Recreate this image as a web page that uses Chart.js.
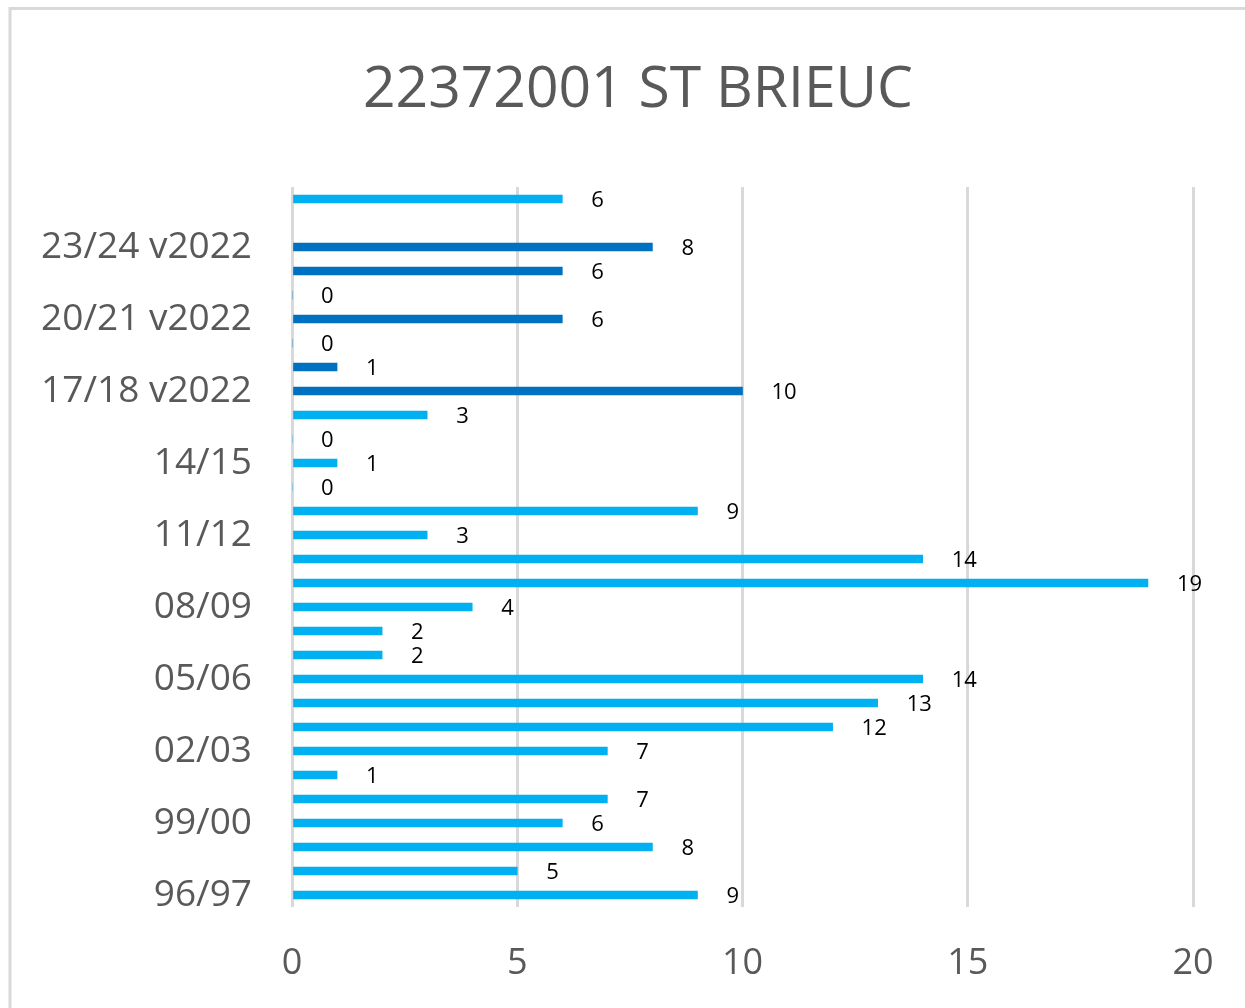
<!DOCTYPE html>
<html>
<head>
<meta charset="utf-8">
<script src="https://cdn.jsdelivr.net/npm/chart.js@4/dist/chart.umd.min.js"></script>
<style>
  html, body { margin: 0; padding: 0; background: #ffffff; }
  #wrap { width: 1245px; height: 1008px; position: relative; }
</style>
</head>
<body>
<div id="wrap"><canvas id="c" width="1245" height="1008"></canvas></div>
<script>
const categories = [
  "96/97", "97/98", "98/99", "99/00", "00/01", "01/02", "02/03", "03/04", "04/05", "05/06",
  "06/07", "07/08", "08/09", "09/10", "10/11", "11/12", "12/13", "13/14", "14/15", "15/16",
  "16/17", "17/18 v2022", "18/19 v2022", "19/20 v2022", "20/21 v2022", "21/22 v2022",
  "22/23 v2022", "23/24 v2022", "24/25 v2022", "25/26 v2022"
];
const seriesLight = [9, 5, 8, 6, 7, 1, 7, 12, 13, 14, 2, 2, 4, 19, 14, 3, 9, 0, 1, 0,
  3, null, null, null, null, null, null, null, null, 6];
const seriesDark = [null, null, null, null, null, null, null, null, null, null,
  null, null, null, null, null, null, null, null, null, null,
  null, 10, 1, 0, 6, 0, 6, 8, null, null];
const xTicks = [0, 5, 10, 15, 20];
const chartTitle = "22372001 ST BRIEUC";

const FONT = "'Open Sans', 'DejaVu Sans', sans-serif";

const frame = {
  id: 'frame',
  beforeDraw(chart) {
    const ctx = chart.ctx;
    ctx.save();
    ctx.fillStyle = '#ffffff';
    ctx.fillRect(0, 0, chart.width, chart.height);
    ctx.strokeStyle = '#d9d9d9';
    ctx.lineWidth = 3;
    ctx.strokeRect(10, 8.5, chart.width + 20, chart.height + 20);
    ctx.restore();
  },
  afterDraw(chart) {
    const ctx = chart.ctx;
    ctx.save();
    ctx.font = "57px " + FONT;
    ctx.fillStyle = '#595959';
    ctx.textAlign = 'center';
    ctx.textBaseline = 'alphabetic';
    ctx.fillText(chartTitle, 638, 107);
    ctx.restore();
  }
};

const labels = {
  id: 'valueLabels',
  afterDatasetsDraw(chart) {
    const ctx = chart.ctx;
    ctx.save();
    ctx.font = "22px " + FONT;
    ctx.fillStyle = '#000000';
    ctx.textAlign = 'left';
    ctx.textBaseline = 'middle';
    chart.data.datasets.forEach((ds, di) => {
      const meta = chart.getDatasetMeta(di);
      meta.data.forEach((el, i) => {
        const v = ds.data[i];
        if (v === null || v === undefined) return;
        ctx.fillText(String(v), el.x + 29, el.y + 2);
      });
    });
    ctx.restore();
  }
};

new Chart(document.getElementById('c'), {
  type: 'bar',
  data: {
    labels: categories,
    datasets: [
      { label: 'light', data: seriesLight, backgroundColor: '#00B0F0', borderWidth: 0, barThickness: 8 },
      { label: 'dark', data: seriesDark, backgroundColor: '#0070C0', borderWidth: 0, barThickness: 8 }
    ]
  },
  options: {
    indexAxis: 'y',
    responsive: false,
    animation: false,
    layout: { padding: { left: 0, right: 52, top: 187, bottom: 0 } },
    plugins: {
      legend: { display: false },
      tooltip: { enabled: false },
      title: { display: false }
    },
    scales: {
      x: {
        stacked: true,
        min: 0,
        max: 20,
        afterBuildTicks(scale) { scale.ticks = xTicks.map(v => ({ value: v })); },
        afterFit(scale) { scale.height = 101; scale.paddingLeft = 0; scale.paddingRight = 0; },
        grid: { color: '#d9d9d9', lineWidth: 3, drawTicks: false },
        border: { display: false },
        ticks: {
          color: '#595959',
          padding: 35,
          font: { family: FONT, size: 36 }
        }
      },
      y: {
        stacked: true,
        reverse: true,
        afterFit(scale) { scale.width = 292; scale.paddingTop = 0; scale.paddingBottom = 0; },
        grid: { display: false, drawTicks: false },
        border: { display: false },
        ticks: {
          autoSkip: false,
          padding: 40,
          color: '#595959',
          font: { family: FONT, size: 37 },
          callback(value, index) { return index % 3 === 0 ? categories[index] : ''; }
        }
      }
    }
  },
  plugins: [frame, labels]
});
</script>
</body>
</html>
